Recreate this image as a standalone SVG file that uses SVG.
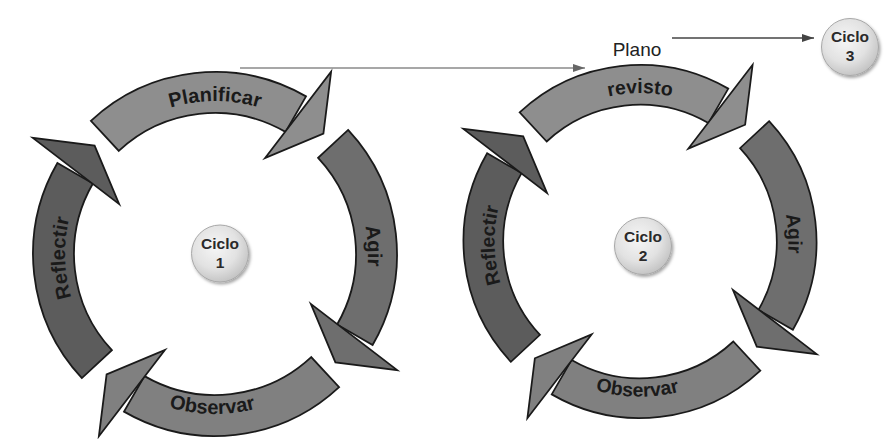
<svg xmlns="http://www.w3.org/2000/svg" width="894" height="439" viewBox="0 0 894 439">
<style>
.seg{stroke:#1a1a1a;stroke-width:1.8;stroke-linejoin:miter}
.plan{fill:#8e8e8e}
.agir{fill:#6e6e6e}
.obs{fill:#808080}
.refl{fill:#5c5c5c}
.lbl{font-family:"Liberation Sans",Arial,sans-serif;font-weight:bold;font-size:20px;fill:#1a1a1a}
.ciclo{fill:url(#cg);stroke:#a8a8a8;stroke-width:1;filter:url(#sh)}
.ct{font-family:"Liberation Sans",Arial,sans-serif;font-weight:bold;font-size:15.5px;fill:#2a2a2a;text-anchor:middle}
.plano{font-family:"Liberation Sans",Arial,sans-serif;font-size:19px;fill:#222;text-anchor:middle}
</style>
<defs>
<radialGradient id="cg" cx="0.42" cy="0.38" r="0.65">
<stop offset="0" stop-color="#f6f6f6"/>
<stop offset="0.6" stop-color="#e2e2e2"/>
<stop offset="1" stop-color="#c2c2c2"/>
</radialGradient>
<filter id="sh" x="-30%" y="-30%" width="170%" height="170%">
<feDropShadow dx="1.5" dy="2" stdDeviation="1.5" flood-color="#000" flood-opacity="0.35"/>
</filter>
<marker id="ah1" viewBox="0 0 12 8" refX="12" refY="4" markerWidth="12" markerHeight="8" markerUnits="userSpaceOnUse" orient="auto">
<path d="M0 0 L12 4 L0 8 Z" fill="#666"/>
</marker>
<marker id="ah2" viewBox="0 0 12 8" refX="12" refY="4" markerWidth="12" markerHeight="8" markerUnits="userSpaceOnUse" orient="auto">
<path d="M0 0 L12 4 L0 8 Z" fill="#444"/>
</marker>
<path id="body" d="M -124.1 -133.1 A 182 182 0 0 1 91.0 -157.6 L 70.5 -122.1 A 141 141 0 0 0 -96.2 -103.1 Z"/>
<path id="head" d="M 49.9 -95.8 L 116.1 -182.2 L 108.4 -120.4 Z"/>
<path id="tp-top" d="M -98.3 -117.2 A 153 153 0 0 1 98.3 -117.2" fill="none"/>
<path id="tp-right" d="M 111.9 -104.3 A 153 153 0 0 1 122.2 92.1" fill="none"/>
<path id="tp-bottom" d="M -105.0 120.8 A 160 160 0 0 0 100.7 124.3" fill="none"/>
<path id="tp-left" d="M -112.3 99.4 A 150 150 0 0 1 -117.4 -93.4" fill="none"/>
</defs>
<rect width="894" height="439" fill="#ffffff"/>

<g id="connectors">
<line x1="240" y1="68" x2="585" y2="68" stroke="#8a8a8a" stroke-width="1.5" marker-end="url(#ah1)"/>
<line x1="672" y1="38" x2="814" y2="38" stroke="#444" stroke-width="1.3" marker-end="url(#ah2)"/>
<text class="plano" x="637" y="56">Plano</text>
</g>

<g id="cycle1" transform="translate(215,254)">
<g id="c1-planificar">
<use href="#body" class="seg plan"/>
<use href="#head" class="seg plan"/>
<text class="lbl"><textPath href="#tp-top" startOffset="50%" text-anchor="middle">Planificar</textPath></text>
</g>
<g id="c1-agir">
<use href="#body" class="seg agir" transform="rotate(90)"/>
<use href="#head" class="seg agir" transform="rotate(90)"/>
<text class="lbl"><textPath href="#tp-right" startOffset="50%" text-anchor="middle">Agir</textPath></text>
</g>
<g id="c1-observar">
<use href="#body" class="seg obs" transform="rotate(180)"/>
<use href="#head" class="seg obs" transform="rotate(180)"/>
<text class="lbl"><textPath href="#tp-bottom" startOffset="50%" text-anchor="middle">Observar</textPath></text>
</g>
<g id="c1-reflectir">
<use href="#body" class="seg refl" transform="rotate(270)"/>
<use href="#head" class="seg refl" transform="rotate(270)"/>
<text class="lbl"><textPath href="#tp-left" startOffset="50%" text-anchor="middle">Reflectir</textPath></text>
</g>
</g>

<g id="cycle2" transform="translate(640,241.5) scale(0.97)">
<g id="c2-revisto">
<use href="#body" class="seg plan"/>
<use href="#head" class="seg plan"/>
<text class="lbl"><textPath href="#tp-top" startOffset="50%" text-anchor="middle">revisto</textPath></text>
</g>
<g id="c2-agir">
<use href="#body" class="seg agir" transform="rotate(90)"/>
<use href="#head" class="seg agir" transform="rotate(90)"/>
<text class="lbl"><textPath href="#tp-right" startOffset="50%" text-anchor="middle">Agir</textPath></text>
</g>
<g id="c2-observar">
<use href="#body" class="seg obs" transform="rotate(180)"/>
<use href="#head" class="seg obs" transform="rotate(180)"/>
<text class="lbl"><textPath href="#tp-bottom" startOffset="50%" text-anchor="middle">Observar</textPath></text>
</g>
<g id="c2-reflectir">
<use href="#body" class="seg refl" transform="rotate(270)"/>
<use href="#head" class="seg refl" transform="rotate(270)"/>
<text class="lbl"><textPath href="#tp-left" startOffset="50%" text-anchor="middle">Reflectir</textPath></text>
</g>
</g>

<g id="ciclo1">
<circle class="ciclo" cx="220" cy="253.5" r="28.5"/>
<text class="ct" x="220" y="249">Ciclo</text>
<text class="ct" x="220" y="268">1</text>
</g>
<g id="ciclo2">
<circle class="ciclo" cx="643" cy="246" r="28.5"/>
<text class="ct" x="643" y="241.5">Ciclo</text>
<text class="ct" x="643" y="260.5">2</text>
</g>
<g id="ciclo3">
<circle class="ciclo" cx="850" cy="47" r="28.5"/>
<text class="ct" x="850" y="42">Ciclo</text>
<text class="ct" x="850" y="61">3</text>
</g>
</svg>
